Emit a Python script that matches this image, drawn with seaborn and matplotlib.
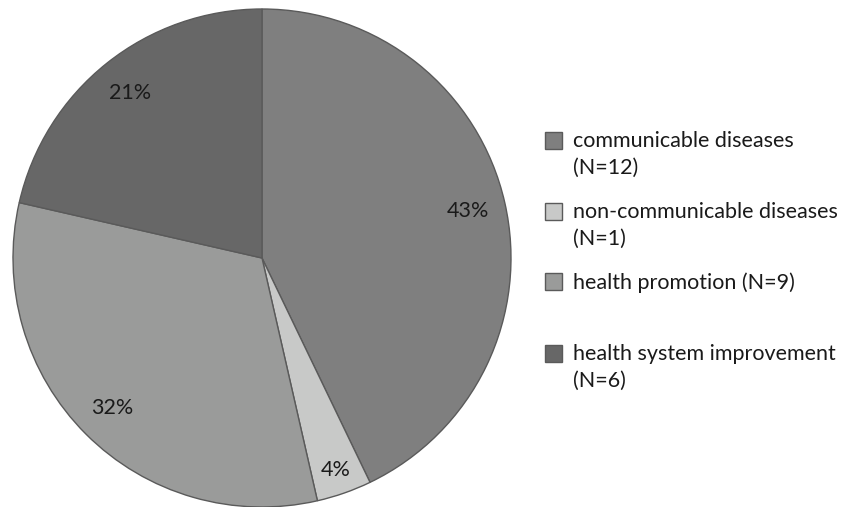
import matplotlib
matplotlib.use("Agg")
import matplotlib.pyplot as plt
import seaborn as sns
import numpy as np
from matplotlib.patches import Rectangle

sns.set_theme(style="white")
plt.rcParams['font.family'] = ['Lato', 'DejaVu Sans']

categories = ["communicable diseases", "non-communicable diseases",
              "health promotion", "health system improvement"]
counts = [12, 1, 9, 6]
legend_labels = ["communicable diseases\n(N=12)", "non-communicable diseases\n(N=1)",
                 "health promotion (N=9)", "health system improvement\n(N=6)"]
colors = ["#7f7f7f", "#c8c9c8", "#9a9b9a", "#676767"]

W, H = 846, 507
fig = plt.figure(figsize=(W / 100, H / 100), dpi=100)
cx, cy, r = 262, 258, 249
ax = fig.add_axes([(cx - r) / W, (H - cy - r) / H, 2 * r / W, 2 * r / H])
wedges, texts, autotexts = ax.pie(
    counts, colors=colors, startangle=90, counterclock=False,
    autopct=lambda p: f"{p:.0f}%", pctdistance=0.85, radius=1,
    wedgeprops=dict(edgecolor="#5a5a5a", linewidth=1.0),
    textprops=dict(fontsize=15.5, color="#1a1a1a"))
# small slice label sits a bit further out
w = wedges[1]
mid = np.deg2rad((w.theta1 + w.theta2) / 2)
autotexts[1].set_position((0.9 * np.cos(mid), 0.9 * np.sin(mid)))
ax.set_xlim(-1, 1)
ax.set_ylim(-1, 1)
ax.set_aspect("equal")
ax.axis("off")

# legend drawn manually to match uneven spacing
marker_y = [140, 211, 281, 353]
for lab, col, my in zip(legend_labels, colors, marker_y):
    fig.patches.append(Rectangle(((545) / W, (H - my - 8.5) / H), 17 / W, 17 / H,
                                 transform=fig.transFigure, facecolor=col,
                                 edgecolor="#5a5a5a", linewidth=1.0))
    fig.text(573 / W, (H - my + 9) / H, lab, ha="left", va="top",
             fontsize=15.5, color="#1a1a1a", linespacing=1.45)

fig.savefig("out.png", dpi=100)
